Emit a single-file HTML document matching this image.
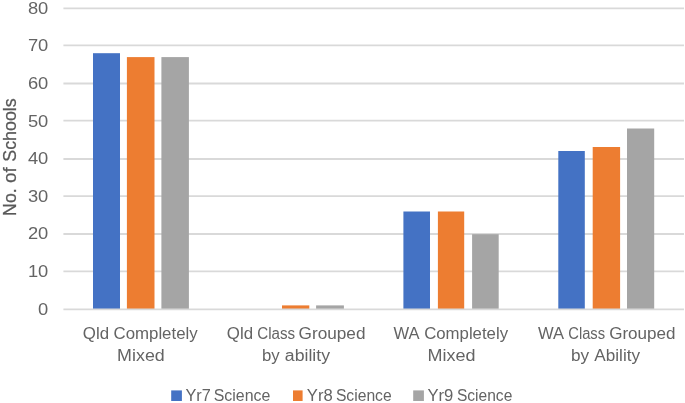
<!DOCTYPE html>
<html><head><meta charset="utf-8"><title>Chart</title>
<style>
html,body{margin:0;padding:0;background:#fff;}
body{width:685px;height:403px;overflow:hidden;font-family:"Liberation Sans",sans-serif;}
svg{display:block;will-change:transform;transform:translateZ(0);}
text{font-family:"Liberation Sans",sans-serif;fill:#646464;}
.t text{fill:#595959;}
</style></head><body>
<svg width="685" height="403" viewBox="0 0 685 403">
<rect width="685" height="403" fill="#ffffff"/>
<line x1="63.4" y1="271.30" x2="684.0" y2="271.30" stroke="#D9D9D9" stroke-width="1.8"/>
<line x1="63.4" y1="234.00" x2="684.0" y2="234.00" stroke="#D9D9D9" stroke-width="1.8"/>
<line x1="63.4" y1="196.10" x2="684.0" y2="196.10" stroke="#D9D9D9" stroke-width="1.8"/>
<line x1="63.4" y1="159.00" x2="684.0" y2="159.00" stroke="#D9D9D9" stroke-width="1.8"/>
<line x1="63.4" y1="120.70" x2="684.0" y2="120.70" stroke="#D9D9D9" stroke-width="1.8"/>
<line x1="63.4" y1="83.50" x2="684.0" y2="83.50" stroke="#D9D9D9" stroke-width="1.8"/>
<line x1="63.4" y1="45.40" x2="684.0" y2="45.40" stroke="#D9D9D9" stroke-width="1.8"/>
<line x1="63.4" y1="8.30" x2="684.0" y2="8.30" stroke="#D9D9D9" stroke-width="1.8"/>
<rect x="93.00" y="53.20" width="27.00" height="256.30" fill="#4472C4"/>
<rect x="126.90" y="57.10" width="27.60" height="252.40" fill="#ED7D31"/>
<rect x="161.40" y="57.10" width="27.50" height="252.40" fill="#A5A5A5"/>
<rect x="282.00" y="305.40" width="27.30" height="4.10" fill="#ED7D31"/>
<rect x="316.10" y="305.40" width="27.80" height="4.10" fill="#A5A5A5"/>
<rect x="403.40" y="211.50" width="26.60" height="98.00" fill="#4472C4"/>
<rect x="437.90" y="211.50" width="26.30" height="98.00" fill="#ED7D31"/>
<rect x="472.10" y="234.20" width="26.60" height="75.30" fill="#A5A5A5"/>
<rect x="558.30" y="151.00" width="26.50" height="158.50" fill="#4472C4"/>
<rect x="592.70" y="147.00" width="27.40" height="162.50" fill="#ED7D31"/>
<rect x="627.00" y="128.50" width="27.20" height="181.00" fill="#A5A5A5"/>
<line x1="63.4" y1="309.40" x2="684.0" y2="309.40" stroke="#D9D9D9" stroke-width="1.8"/>
<text x="48.30" y="314.70" font-size="16.5" text-anchor="end" textLength="10.20" lengthAdjust="spacingAndGlyphs">0</text>
<text x="48.30" y="277.08" font-size="16.5" text-anchor="end" textLength="20.39" lengthAdjust="spacingAndGlyphs">10</text>
<text x="48.30" y="239.46" font-size="16.5" text-anchor="end" textLength="20.39" lengthAdjust="spacingAndGlyphs">20</text>
<text x="48.30" y="201.84" font-size="16.5" text-anchor="end" textLength="20.39" lengthAdjust="spacingAndGlyphs">30</text>
<text x="48.30" y="164.22" font-size="16.5" text-anchor="end" textLength="20.39" lengthAdjust="spacingAndGlyphs">40</text>
<text x="48.30" y="126.60" font-size="16.5" text-anchor="end" textLength="20.39" lengthAdjust="spacingAndGlyphs">50</text>
<text x="48.30" y="88.98" font-size="16.5" text-anchor="end" textLength="20.39" lengthAdjust="spacingAndGlyphs">60</text>
<text x="48.30" y="51.36" font-size="16.5" text-anchor="end" textLength="20.39" lengthAdjust="spacingAndGlyphs">70</text>
<text x="48.30" y="13.74" font-size="16.5" text-anchor="end" textLength="20.39" lengthAdjust="spacingAndGlyphs">80</text>
<g class="t" transform="translate(16.3,215.9) rotate(-90)" font-size="17.6" stroke="#595959" stroke-width="0.25">
<text x="0.0" y="0" textLength="27.6" lengthAdjust="spacingAndGlyphs">No.</text>
<text x="33.0" y="0" textLength="15.6" lengthAdjust="spacingAndGlyphs">of</text>
<text x="54.2" y="0" textLength="63.4" lengthAdjust="spacingAndGlyphs">Schools</text>
</g>
<text x="82.81" y="338.60" font-size="15.8" textLength="26.28" lengthAdjust="spacingAndGlyphs">Qld</text>
<text x="113.56" y="338.60" font-size="15.8" textLength="84.07" lengthAdjust="spacingAndGlyphs">Completely</text>
<text x="117.14" y="360.60" font-size="15.8" textLength="47.62" lengthAdjust="spacingAndGlyphs">Mixed</text>
<text x="226.81" y="338.60" font-size="15.8" textLength="26.28" lengthAdjust="spacingAndGlyphs">Qld</text>
<text x="257.24" y="338.60" font-size="15.8" textLength="37.90" lengthAdjust="spacingAndGlyphs">Class</text>
<text x="298.54" y="338.60" font-size="15.8" textLength="66.97" lengthAdjust="spacingAndGlyphs">Grouped</text>
<text x="261.93" y="360.60" font-size="15.8" textLength="17.71" lengthAdjust="spacingAndGlyphs">by</text>
<text x="284.86" y="360.60" font-size="15.8" textLength="45.17" lengthAdjust="spacingAndGlyphs">ability</text>
<text x="393.53" y="338.60" font-size="15.8" textLength="26.10" lengthAdjust="spacingAndGlyphs">WA</text>
<text x="424.16" y="338.60" font-size="15.8" textLength="83.87" lengthAdjust="spacingAndGlyphs">Completely</text>
<text x="427.52" y="360.60" font-size="15.8" textLength="48.04" lengthAdjust="spacingAndGlyphs">Mixed</text>
<text x="537.93" y="338.60" font-size="15.8" textLength="26.10" lengthAdjust="spacingAndGlyphs">WA</text>
<text x="568.26" y="338.60" font-size="15.8" textLength="36.86" lengthAdjust="spacingAndGlyphs">Class</text>
<text x="609.15" y="338.60" font-size="15.8" textLength="66.35" lengthAdjust="spacingAndGlyphs">Grouped</text>
<text x="570.90" y="360.60" font-size="15.8" textLength="18.14" lengthAdjust="spacingAndGlyphs">by</text>
<text x="594.37" y="360.60" font-size="15.8" textLength="45.66" lengthAdjust="spacingAndGlyphs">Ability</text>
<rect x="171.2" y="390.4" width="10.7" height="10.6" fill="#4472C4"/>
<text x="185.44" y="400.80" font-size="15.8" textLength="25.38" lengthAdjust="spacingAndGlyphs">Yr7</text>
<text x="213.68" y="400.80" font-size="15.8" textLength="56.63" lengthAdjust="spacingAndGlyphs">Science</text>
<rect x="293.0" y="390.4" width="9.6" height="10.6" fill="#ED7D31"/>
<text x="306.83" y="400.80" font-size="15.8" textLength="25.88" lengthAdjust="spacingAndGlyphs">Yr8</text>
<text x="335.89" y="400.80" font-size="15.8" textLength="55.81" lengthAdjust="spacingAndGlyphs">Science</text>
<rect x="413.2" y="390.4" width="10.7" height="10.6" fill="#A5A5A5"/>
<text x="427.43" y="400.80" font-size="15.8" textLength="25.95" lengthAdjust="spacingAndGlyphs">Yr9</text>
<text x="456.90" y="400.80" font-size="15.8" textLength="55.40" lengthAdjust="spacingAndGlyphs">Science</text>
</svg></body></html>
